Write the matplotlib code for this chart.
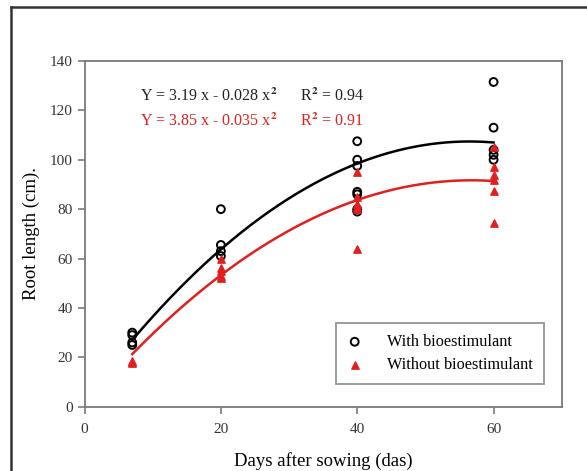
import numpy as np
import matplotlib
matplotlib.use("Agg")
import matplotlib.pyplot as plt
from matplotlib.lines import Line2D

plt.rcParams['font.family'] = ['Liberation Serif', 'DejaVu Serif']
plt.rcParams['mathtext.fontset'] = 'stix'

with_x = [7, 7, 7, 7, 20, 20, 20, 20, 40, 40, 40, 40, 40, 40, 40, 60, 60, 60, 60, 60]
with_y = [30, 29, 26, 25, 80, 65.5, 63, 61, 107.5, 100, 97.5, 87, 86, 80, 79, 131.5, 113, 104, 102, 100]
without_x = [7, 7, 7, 20, 20, 20, 20, 20, 40, 40, 40, 40, 40, 40, 60, 60, 60, 60, 60, 60]
without_y = [18.5, 18, 17.5, 60, 56, 55, 53, 52, 95, 85, 82, 81, 80, 64, 105, 97, 94, 92, 87.5, 74.5]

# fitted curves as drawn (a + b x + c x^2)
with_fit = (2.63, 3.711, -0.03286)
without_fit = (0.11, 3.226, -0.02841)
fit_range = (7, 60)

eq_with = r"Y = 3.19 x - 0.028 x$^{\mathbf{2}}$      R$^{\mathbf{2}}$ = 0.94"
eq_without = r"Y = 3.85 x - 0.035 x$^{\mathbf{2}}$      R$^{\mathbf{2}}$ = 0.91"

red = '#e0201e'
grey = '#7a7a7a'

fig = plt.figure(figsize=(5.87, 4.71), dpi=100)
ax = fig.add_axes([0.144, 0.1365, 0.813, 0.734])

xs = np.linspace(fit_range[0], fit_range[1], 200)
ax.plot(xs, with_fit[0] + with_fit[1] * xs + with_fit[2] * xs ** 2, color='black', lw=1.8)
ax.plot(xs, without_fit[0] + without_fit[1] * xs + without_fit[2] * xs ** 2, color=red, lw=1.8)

ax.scatter(with_x, with_y, s=32, facecolors='none', edgecolors='black', linewidths=1.4,
           label='With bioestimulant', zorder=3)
ax.scatter(without_x, without_y, s=28, marker='^', color=red,
           label='Without bioestimulant', zorder=3)

ax.text(8.2, 125.5, eq_with, fontsize=11.5, color='#222222', va='center')
ax.text(8.2, 115.4, eq_without, fontsize=11.5, color=red, va='center')

ax.set_xlim(0, 70)
ax.set_ylim(0, 140)
ax.set_xticks([0, 20, 40, 60])
ax.set_yticks(range(0, 141, 20))
ax.tick_params(direction='out', length=5, width=1.2, color=grey,
               labelsize=11, labelcolor='#333333')
ax.tick_params(axis='x', pad=7)
for s in ax.spines.values():
    s.set_color(grey)
    s.set_linewidth(1.3)

ax.set_xlabel('Days after sowing (das)', fontsize=13.5, labelpad=11)
ax.set_ylabel('Root length (cm).', fontsize=13.5, labelpad=7)

leg = ax.legend(loc='lower right', bbox_to_anchor=(0.962, 0.066), fontsize=11.7,
                fancybox=False, edgecolor=grey, handletextpad=1.5, handlelength=1.0,
                borderpad=0.65, labelspacing=0.45, borderaxespad=0)
leg.get_frame().set_linewidth(1.3)

# outer frame around the figure
fig.add_artist(Line2D([11 / 587, 11 / 587], [0, 1 - 7 / 471], color='#333333', lw=1.8))
fig.add_artist(Line2D([11 / 587, 1], [1 - 7 / 471, 1 - 7 / 471], color='#333333', lw=1.8))

fig.savefig('out.png', dpi=100)
